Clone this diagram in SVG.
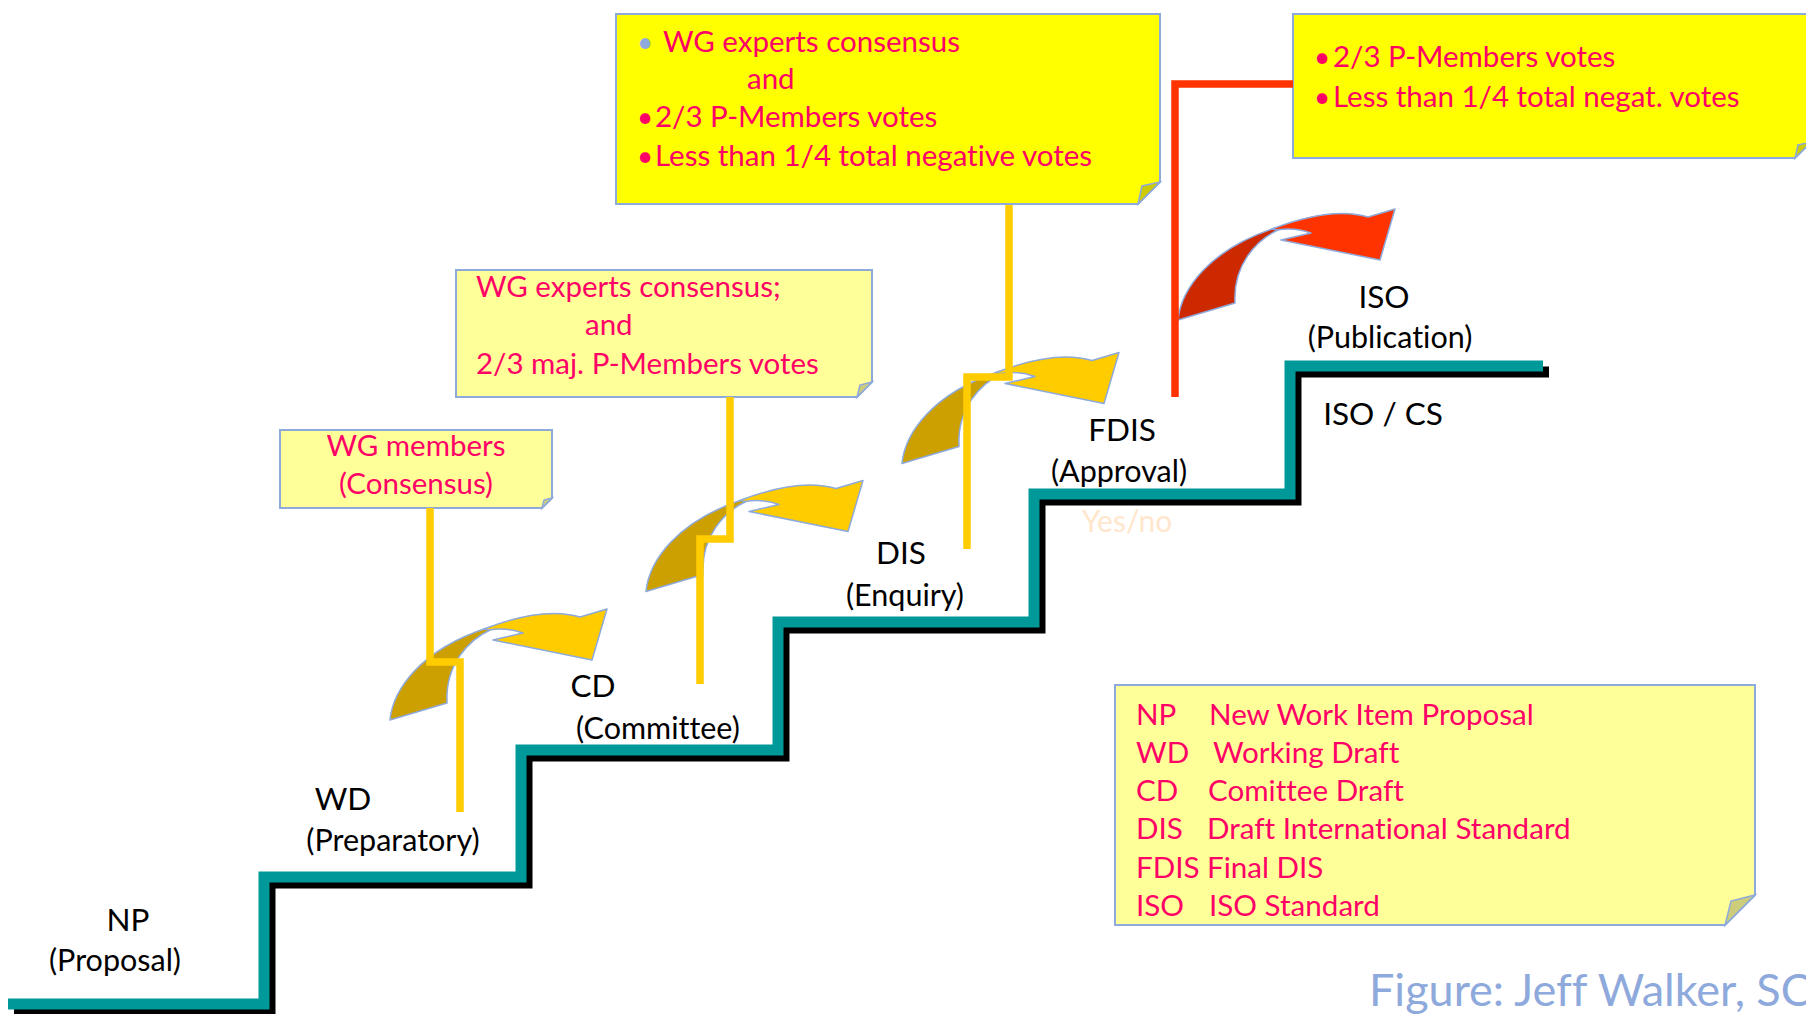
<svg xmlns="http://www.w3.org/2000/svg" xmlns:xlink="http://www.w3.org/1999/xlink" width="1806" height="1014" viewBox="0 0 1806 1014">
<style>
  text { font-family: Lato, "Liberation Sans", sans-serif; font-variant-ligatures: none; }
  .lbl { fill: #000000; font-size: 31.5px; text-anchor: middle; }
  .sub { fill: #000000; font-size: 30.5px; text-anchor: middle; }
  .nt { fill: #FF0066; font-size: 29.5px; }
  .ntc { fill: #FF0066; font-size: 29.5px; text-anchor: middle; }
  .lg { fill: #FF0066; font-size: 29.6px; }
  .bul { fill: #FF0066; font-size: 28px; }
  .box { stroke: #8EA9DB; stroke-width: 2; }
  .light { fill: #FFFF99; }
  .bright { fill: #FFFF00; }
  .foldL { fill: #CCCC7A; stroke: #8EA9DB; stroke-width: 1.5; }
  .foldB { fill: #CCCC00; stroke: #8EA9DB; stroke-width: 1.5; }
  .arr { stroke: #8EA9DB; stroke-width: 1.5; stroke-linejoin: round; }
  .conn { fill: none; stroke: #FFCC00; stroke-width: 7.5; }
  .connR { fill: none; stroke: #FF3300; stroke-width: 7.5; }
</style>
<defs>
  <path id="arrDark" d="M390,720 C393,690 420,650 487,628 L491,629.5 C468,640 445,665 447,703 Z"/>
  <path id="arrLight" d="M484,629 C515,617 550,608 580,617 L607,609 L592,660 L493,640 L523,633 C512,629 500,628 489,630 Z"/>
</defs>
<rect x="0" y="0" width="1806" height="1014" fill="#FFFFFF"/>

<g id="staircase">
  <polyline fill="none" stroke="#000000" stroke-width="11" points="14,1010 270,1010 270,883 527,883 527,756 784,756 784,628 1040,628 1040,500 1296,500 1296,372 1549,372"/>
  <polyline fill="none" stroke="#009999" stroke-width="11" points="8,1004 264,1004 264,877 521,877 521,750 778,750 778,622 1034,622 1034,494 1290,494 1290,366 1543,366"/>
</g>

<g id="transitions">
  <g id="arrow-wd-cd">
    <use href="#arrDark" fill="#CCA000" class="arr"/>
    <use href="#arrLight" fill="#FFCC00" class="arr"/>
  </g>
  <g id="arrow-cd-dis" transform="translate(256,-128.5)">
    <use href="#arrDark" fill="#CCA000" class="arr"/>
    <use href="#arrLight" fill="#FFCC00" class="arr"/>
  </g>
  <g id="arrow-dis-fdis" transform="translate(512,-256.5)">
    <use href="#arrDark" fill="#CCA000" class="arr"/>
    <use href="#arrLight" fill="#FFCC00" class="arr"/>
  </g>
  <g id="arrow-fdis-iso" transform="translate(788,-400)">
    <use href="#arrDark" fill="#CC2900" class="arr"/>
    <use href="#arrLight" fill="#FF3300" class="arr"/>
  </g>
</g>

<g id="stage-np">
  <text class="lbl" x="128" y="931">NP</text>
  <text class="sub" x="115" y="971">(Proposal)</text>
</g>
<g id="stage-wd">
  <text class="lbl" x="343" y="810">WD</text>
  <text class="sub" x="393" y="851">(Preparatory)</text>
</g>
<g id="stage-cd">
  <text class="lbl" x="593" y="697">CD</text>
  <text class="sub" x="658" y="739">(Committee)</text>
</g>
<g id="stage-dis">
  <text class="lbl" x="901" y="564">DIS</text>
  <text class="sub" x="905" y="606">(Enquiry)</text>
</g>
<g id="stage-fdis">
  <text class="lbl" x="1122" y="441">FDIS</text>
  <text class="sub" x="1119" y="482">(Approval)</text>
  <text x="1127" y="532" font-size="30" fill="#FFE6CC" text-anchor="middle">Yes/no</text>
</g>
<g id="stage-iso">
  <text class="lbl" x="1384" y="308">ISO</text>
  <text class="sub" x="1390" y="348">(Publication)</text>
  <text class="lbl" x="1383" y="425">ISO / CS</text>
</g>

<g id="note-wd">
  <path class="box light" d="M280,430 H552 V498 L542,508 H280 Z"/>
  <path class="foldL" d="M552,498 L542,508 L544,500 Z"/>
  <text class="ntc" x="416" y="456">WG members</text>
  <text class="ntc" x="416" y="494">(Consensus)</text>
</g>

<g id="note-cd">
  <path class="box light" d="M456,270 H872 V382 L857,397 H456 Z"/>
  <path class="foldL" d="M872,382 L857,397 L860,385 Z"/>
  <text class="nt" x="476" y="297">WG experts consensus;</text>
  <text class="nt" x="585" y="335">and</text>
  <text class="nt" x="476" y="374">2/3 maj. P-Members votes</text>
</g>

<g id="note-dis">
  <path class="box bright" d="M616,14 H1160 V182 L1138,204 H616 Z"/>
  <path class="foldB" d="M1160,182 L1138,204 L1142,186 Z"/>
  <text x="637" y="52" font-size="28" fill="#8EA9DB">•</text>
  <text class="nt" x="663" y="52">WG experts consensus</text>
  <text class="nt" x="747" y="89">and</text>
  <text class="bul" x="637" y="127">•</text>
  <text class="nt" x="655" y="127">2/3 P-Members votes</text>
  <text class="bul" x="637" y="166">•</text>
  <text class="nt" x="655" y="166">Less than 1/4 total negative votes</text>
</g>

<g id="note-fdis">
  <path class="box bright" d="M1293,14 H1811 V142 L1795,158 H1293 Z"/>
  <path class="foldB" d="M1811,142 L1795,158 L1798,145 Z"/>
  <text class="bul" x="1314" y="67">•</text>
  <text class="nt" x="1333" y="67">2/3 P-Members votes</text>
  <text class="bul" x="1314" y="107">•</text>
  <text class="nt" x="1333" y="107">Less than 1/4 total negat. votes</text>
</g>

<g id="connectors">
  <path class="conn" d="M430,508 V662 H460 V812"/>
  <path class="conn" d="M730,397 V539 H700 V684"/>
  <path class="conn" d="M1009,205 V377 H967 V549"/>
  <path class="connR" d="M1293,84 H1175 V397"/>
</g>

<g id="legend">
  <path class="box light" d="M1115,685 H1755 V895 L1725,925 H1115 Z"/>
  <path class="foldL" d="M1755,895 L1725,925 L1731,901 Z"/>
  <text class="lg" x="1136" y="725">NP</text>
  <text class="lg" x="1209" y="725">New Work Item Proposal</text>
  <text class="lg" x="1136" y="763">WD</text>
  <text class="lg" x="1213" y="763">Working Draft</text>
  <text class="lg" x="1136" y="801">CD</text>
  <text class="lg" x="1208" y="801">Comittee Draft</text>
  <text class="lg" x="1136" y="839">DIS</text>
  <text class="lg" x="1207" y="839">Draft International Standard</text>
  <text class="lg" x="1136" y="878">FDIS</text>
  <text class="lg" x="1207" y="878">Final DIS</text>
  <text class="lg" x="1136" y="916">ISO</text>
  <text class="lg" x="1209" y="916">ISO Standard</text>
</g>

<g id="caption">
  <text x="1369" y="1006" font-size="45" fill="#8EA9DB">Figure: Jeff Walker, SCC</text>
</g>
</svg>
